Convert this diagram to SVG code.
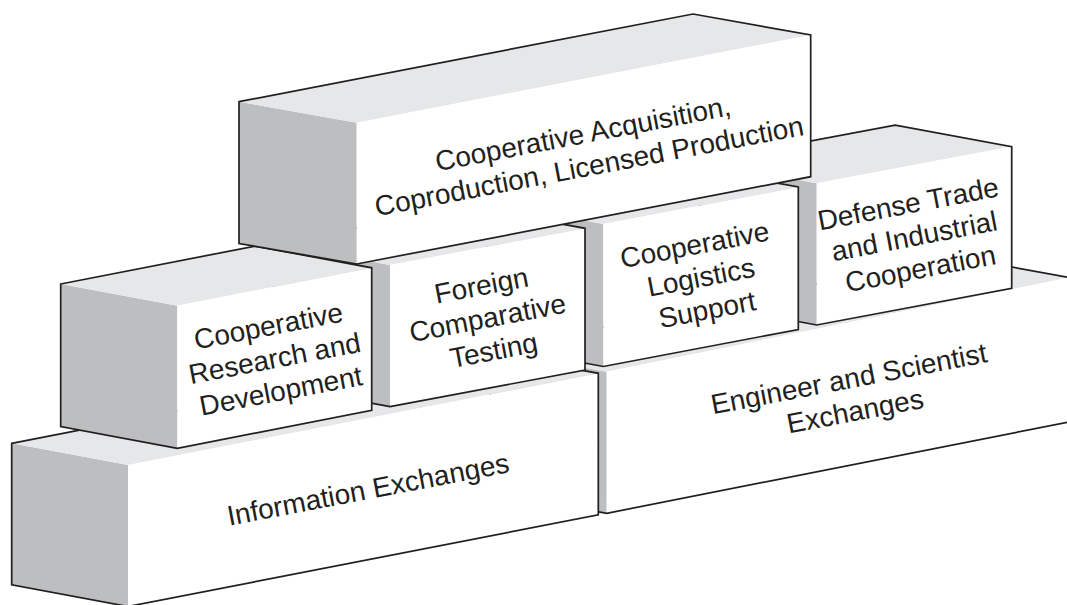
<svg xmlns="http://www.w3.org/2000/svg" width="1067" height="605" viewBox="0 0 1067 605">
<style>
.side{fill:#bcbec0;stroke:none}
.top{fill:#e6e7e8;stroke:none}
.front{fill:#ffffff;stroke:none}
.edge{fill:none;stroke:#231f20;stroke-width:1.7;stroke-linejoin:miter}
.lbl{font-family:"Liberation Sans",Arial,Helvetica,sans-serif;font-size:28px;fill:#231f20;text-anchor:middle}
</style>
<rect width="1067" height="605" fill="#ffffff"/>
<g id="connectors"/>
<g id="engineer-scientist-exchanges">
<polygon class="side" points="490.2,350.2 606.7,371.7 606.7,513.3 490.2,491.8"/>
<polygon class="top" points="490.2,350.2 952.5,256.1 1069,277.6 606.7,371.7"/>
<polygon class="front" points="606.7,371.7 1069,277.6 1069,422 606.7,513.3"/>
<polygon class="edge" points="490.2,350.2 952.5,256.1 1069,277.6 1069,422 606.7,513.3 490.2,491.8"/>
<g transform="translate(852,395) rotate(-10.8)">
<text class="lbl" x="0" y="-7">Engineer and Scientist</text>
<text class="lbl" x="0" y="26">Exchanges</text>
</g>
</g>
<g id="information-exchanges">
<polygon class="side" points="11.7,443.3 128,465 128,606.5 11.7,584.8"/>
<polygon class="top" points="11.7,443.3 482,351.6 598.3,373.3 128,465"/>
<polygon class="front" points="128,465 598.3,373.3 598.3,514.8 128,606.5"/>
<polygon class="edge" points="11.7,443.3 482,351.6 598.3,373.3 598.3,514.8 128,606.5 11.7,584.8"/>
<g transform="translate(368,489) rotate(-10.8)">
<text class="lbl" x="0" y="10">Information Exchanges</text>
</g>
</g>
<g id="defense-trade">
<polygon class="side" points="700.2,161.8 816.7,183.3 816.7,325 700.2,303.5"/>
<polygon class="top" points="700.2,161.8 895.2,125.1 1011.7,146.6 816.7,183.3"/>
<polygon class="front" points="816.7,183.3 1011.7,146.6 1011.7,288.3 816.7,325"/>
<polygon class="edge" points="700.2,161.8 895.2,125.1 1011.7,146.6 1011.7,288.3 816.7,325 700.2,303.5"/>
<g transform="translate(914.2,235.8) rotate(-10.8)">
<text class="lbl" x="0" y="-23">Defense Trade</text>
<text class="lbl" x="0" y="10">and Industrial</text>
<text class="lbl" x="0" y="43">Cooperation</text>
</g>
</g>
<g id="cooperative-logistics-support">
<polygon class="side" points="486.8,202.5 603.3,224 603.3,366.5 486.8,345"/>
<polygon class="top" points="486.8,202.5 681.8,165.5 798.3,187 603.3,224"/>
<polygon class="front" points="603.3,224 798.3,187 798.3,329.5 603.3,366.5"/>
<polygon class="edge" points="486.8,202.5 681.8,165.5 798.3,187 798.3,329.5 603.3,366.5 486.8,345"/>
<g transform="translate(700.8,276.8) rotate(-10.8)">
<text class="lbl" x="0" y="-23">Cooperative</text>
<text class="lbl" x="0" y="10">Logistics</text>
<text class="lbl" x="0" y="43">Support</text>
</g>
</g>
<g id="foreign-comparative-testing">
<polygon class="side" points="273.5,243.5 390,265 390,406.7 273.5,385.2"/>
<polygon class="top" points="273.5,243.5 468.5,206.8 585,228.3 390,265"/>
<polygon class="front" points="390,265 585,228.3 585,370 390,406.7"/>
<polygon class="edge" points="273.5,243.5 468.5,206.8 585,228.3 585,370 390,406.7 273.5,385.2"/>
<g transform="translate(487.5,317.5) rotate(-10.8)">
<text class="lbl" x="0" y="-23">Foreign</text>
<text class="lbl" x="0" y="10">Comparative</text>
<text class="lbl" x="0" y="43">Testing</text>
</g>
</g>
<g id="cooperative-research-development">
<polygon class="side" points="60.7,284 177.3,305.7 177.3,448.3 60.7,426.6"/>
<polygon class="top" points="60.7,284 255.1,246.1 371.7,267.8 177.3,305.7"/>
<polygon class="front" points="177.3,305.7 371.7,267.8 371.7,410.4 177.3,448.3"/>
<polygon class="edge" points="60.7,284 255.1,246.1 371.7,267.8 371.7,410.4 177.3,448.3 60.7,426.6"/>
<g transform="translate(274.5,358) rotate(-10.8)">
<text class="lbl" x="0" y="-23">Cooperative</text>
<text class="lbl" x="0" y="10">Research and</text>
<text class="lbl" x="0" y="43">Development</text>
</g>
</g>
<g id="cooperative-acquisition">
<polygon class="side" points="239,101.7 356.7,122.7 356.7,264 239,243.5"/>
<polygon class="top" points="239,101.7 693,14 810.7,35 356.7,122.7"/>
<polygon class="front" points="356.7,122.7 810.7,35 810.7,176.7 356.7,264"/>
<polygon class="edge" points="239,101.7 693,14 810.7,35 810.7,176.7 356.7,264 239,243.5"/>
<g transform="translate(586,150) rotate(-10.8)">
<text class="lbl" x="0" y="-7">Cooperative Acquisition,</text>
<text class="lbl" x="0" y="26">Coproduction, Licensed Production</text>
</g>
</g>
</svg>
